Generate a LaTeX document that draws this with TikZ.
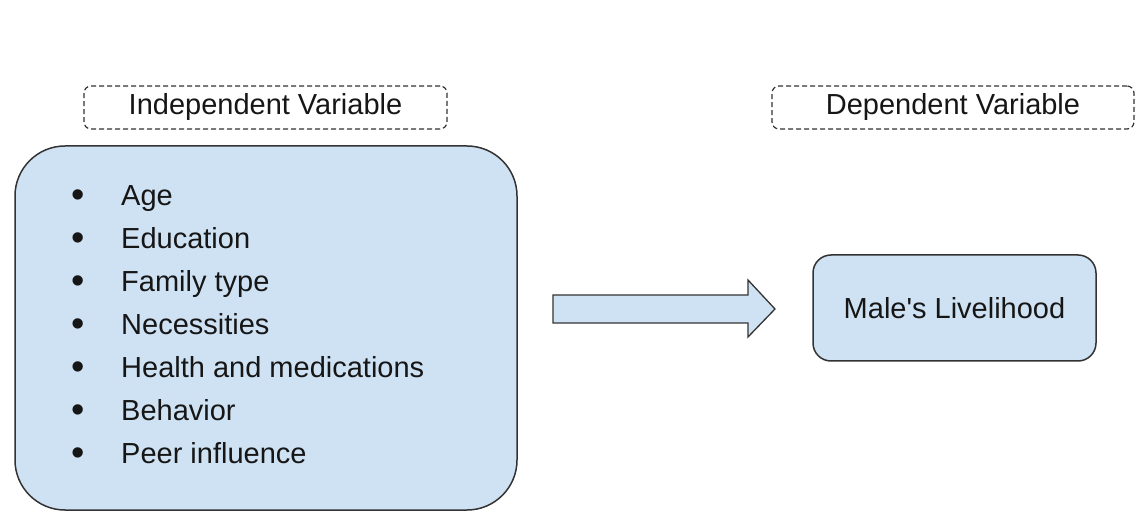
\documentclass[tikz,border=0pt]{standalone}
\usepackage{fontspec}
\setmainfont{Liberation Sans}[Ligatures=TeXOff]
\definecolor{boxblue}{RGB}{207,226,243}
\definecolor{inkgray}{RGB}{22,22,22}
\newcommand{\bigbul}{\makebox[49pt][l]{\hspace{-1pt}\raisebox{-2.5pt}{\fontsize{38}{43}\selectfont\textbullet}}}
\begin{document}
\begin{tikzpicture}[x=1pt,y=1pt,
  dashbox/.style={draw=black!80, dash pattern=on 5pt off 3pt, line width=1.2pt,
    rounded corners=7pt, inner sep=0pt, font=\fontsize{29}{34}\selectfont, text=inkgray},
  bluebox/.style={draw=black!80, line width=1.5pt, fill=boxblue, inner sep=0pt,
    font=\fontsize{29}{34}\selectfont, text=inkgray},
  listtext/.style={inner sep=0pt, align=left, font=\fontsize{29}{43}\selectfont, text=inkgray},
  blockarrow/.style={draw=black!80, line width=1.3pt, fill=boxblue, line join=miter}
]
\useasboundingbox (0,0) rectangle (1136,520);
\fill[white] (0,0) rectangle (1136,520);

\node[dashbox, minimum width=363, minimum height=43] (ivlab) at (265.5,412.5) {Independent Variable};
\node[dashbox, minimum width=362, minimum height=43] (dvlab) at (953,412.5) {Dependent Variable};

\node[bluebox, rounded corners=50pt, minimum width=502, minimum height=364] (iv) at (266,192) {};
\node[listtext, anchor=west] (list) at (72,194.5) {%
\bigbul Age\\
\bigbul Education\\
\bigbul Family type\\
\bigbul Necessities\\
\bigbul Health and medications\\
\bigbul Behavior\\
\bigbul Peer influence};

\node[bluebox, rounded corners=18pt, minimum width=283, minimum height=106] (dv) at (954.5,212) {Male's Livelihood};

\draw[blockarrow] (553,225) -- (748,225) -- (748,240) -- (775,211) -- (748,183) -- (748,197) -- (553,197) -- cycle;
\end{tikzpicture}
\end{document}
